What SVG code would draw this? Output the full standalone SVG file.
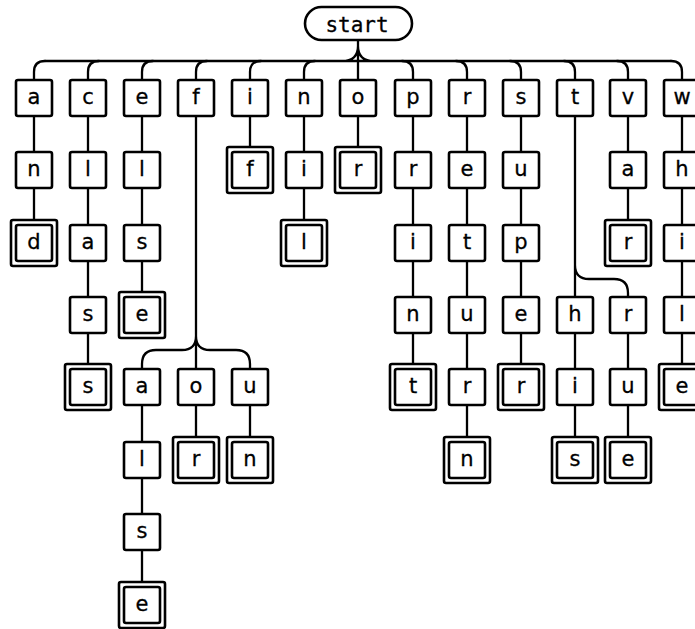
<svg xmlns="http://www.w3.org/2000/svg" width="695" height="629" viewBox="0 0 695 629">
<style>
.b{fill:#fff;stroke:#000;stroke-width:2.6}
.t{font-family:"DejaVu Sans","Liberation Sans",sans-serif;font-size:21px;text-anchor:middle;fill:#000;stroke:#000;stroke-width:0.3}
.s{font-family:"DejaVu Sans Mono","Liberation Mono",monospace;font-size:21px;text-anchor:middle;fill:#000;stroke:#000;stroke-width:0.3}
.e{fill:none;stroke:#000;stroke-width:2.3;stroke-linecap:round}
</style>
<rect width="695" height="629" fill="#fff"/>
<g id="connectors" class="e">
<path d="M358,40V79M358,46Q358,61 342,61M358,46Q358,61 374,61M45,61H671"/>
<path d="M34,79V72Q34,61 45,61M88,79V72Q88,61 99,61M142,79V72Q142,61 153,61M196,79V72Q196,61 207,61M250,79V72Q250,61 261,61M304,79V72Q304,61 315,61"/>
<path d="M413,79V72Q413,61 402,61M467,79V72Q467,61 456,61M521,79V72Q521,61 510,61M575,79V72Q575,61 564,61M628,79V72Q628,61 617,61M682,79V72Q682,61 671,61"/>
<path d="M34,116V152M34,188V220"/>
<path d="M88,116V152M88,188V225M88,261V297M88,333V364"/>
<path d="M142,116V152M142,188V225M142,261V292"/>
<path d="M196,116V369M196,336Q196,350 182,350H156Q142,350 142,364V369M196,336Q196,350 210,350H236Q250,350 250,364V369"/>
<path d="M142,405V442M142,478V514M142,550V582"/>
<path d="M196,405V437M250,405V437"/>
<path d="M250,116V147"/>
<path d="M304,116V152M304,188V220"/>
<path d="M358,116V147"/>
<path d="M413,116V152M413,188V225M413,261V297M413,333V364"/>
<path d="M467,116V152M467,188V225M467,261V297M467,333V369M467,405V437"/>
<path d="M521,116V152M521,188V225M521,261V297M521,333V364"/>
<path d="M575,116V297M575,265Q575,279 589,279H614Q628,279 628,293V297M575,333V369M575,405V437"/>
<path d="M628,116V152M628,188V220M628,333V369M628,405V437"/>
<path d="M682,116V152M682,188V225M682,261V297M682,333V364"/>
</g>
<g id="start"><rect class="b" x="305" y="7" width="107" height="33" rx="16.5"/><text class="s" x="357" y="32">start</text></g>
<g id="n-a"><rect class="b" x="16" y="80" width="36" height="36" rx="2"/><text class="t" x="34" y="104">a</text></g>
<g id="n-c"><rect class="b" x="70" y="80" width="36" height="36" rx="2"/><text class="t" x="88" y="104">c</text></g>
<g id="n-e"><rect class="b" x="124" y="80" width="36" height="36" rx="2"/><text class="t" x="142" y="104">e</text></g>
<g id="n-f"><rect class="b" x="178" y="80" width="36" height="36" rx="2"/><text class="t" x="196" y="104">f</text></g>
<g id="n-i"><rect class="b" x="232" y="80" width="36" height="36" rx="2"/><text class="t" x="250" y="104">i</text></g>
<g id="n-n"><rect class="b" x="286" y="80" width="36" height="36" rx="2"/><text class="t" x="304" y="104">n</text></g>
<g id="n-o"><rect class="b" x="340" y="80" width="36" height="36" rx="2"/><text class="t" x="358" y="104">o</text></g>
<g id="n-p"><rect class="b" x="395" y="80" width="36" height="36" rx="2"/><text class="t" x="413" y="104">p</text></g>
<g id="n-r"><rect class="b" x="449" y="80" width="36" height="36" rx="2"/><text class="t" x="467" y="104">r</text></g>
<g id="n-s"><rect class="b" x="503" y="80" width="36" height="36" rx="2"/><text class="t" x="521" y="104">s</text></g>
<g id="n-t"><rect class="b" x="557" y="80" width="36" height="36" rx="2"/><text class="t" x="575" y="104">t</text></g>
<g id="n-v"><rect class="b" x="610" y="80" width="36" height="36" rx="2"/><text class="t" x="628" y="104">v</text></g>
<g id="n-w"><rect class="b" x="664" y="80" width="36" height="36" rx="2"/><text class="t" x="682" y="104">w</text></g>
<g id="n-an"><rect class="b" x="16" y="152" width="36" height="36" rx="2"/><text class="t" x="34" y="176">n</text></g>
<g id="n-and"><rect class="b" x="11" y="220" width="46" height="46" rx="2"/><rect class="b" x="16" y="225" width="36" height="36" rx="2"/><text class="t" x="34" y="249">d</text></g>
<g id="n-cl"><rect class="b" x="70" y="152" width="36" height="36" rx="2"/><text class="t" x="88" y="176">l</text></g>
<g id="n-cla"><rect class="b" x="70" y="225" width="36" height="36" rx="2"/><text class="t" x="88" y="249">a</text></g>
<g id="n-clas"><rect class="b" x="70" y="297" width="36" height="36" rx="2"/><text class="t" x="88" y="321">s</text></g>
<g id="n-class"><rect class="b" x="65" y="364" width="46" height="46" rx="2"/><rect class="b" x="70" y="369" width="36" height="36" rx="2"/><text class="t" x="88" y="393">s</text></g>
<g id="n-el"><rect class="b" x="124" y="152" width="36" height="36" rx="2"/><text class="t" x="142" y="176">l</text></g>
<g id="n-els"><rect class="b" x="124" y="225" width="36" height="36" rx="2"/><text class="t" x="142" y="249">s</text></g>
<g id="n-else"><rect class="b" x="119" y="292" width="46" height="46" rx="2"/><rect class="b" x="124" y="297" width="36" height="36" rx="2"/><text class="t" x="142" y="321">e</text></g>
<g id="n-fa"><rect class="b" x="124" y="369" width="36" height="36" rx="2"/><text class="t" x="142" y="393">a</text></g>
<g id="n-fal"><rect class="b" x="124" y="442" width="36" height="36" rx="2"/><text class="t" x="142" y="466">l</text></g>
<g id="n-fals"><rect class="b" x="124" y="514" width="36" height="36" rx="2"/><text class="t" x="142" y="538">s</text></g>
<g id="n-false"><rect class="b" x="119" y="582" width="46" height="46" rx="2"/><rect class="b" x="124" y="587" width="36" height="36" rx="2"/><text class="t" x="142" y="611">e</text></g>
<g id="n-fo"><rect class="b" x="178" y="369" width="36" height="36" rx="2"/><text class="t" x="196" y="393">o</text></g>
<g id="n-for"><rect class="b" x="173" y="437" width="46" height="46" rx="2"/><rect class="b" x="178" y="442" width="36" height="36" rx="2"/><text class="t" x="196" y="466">r</text></g>
<g id="n-fu"><rect class="b" x="232" y="369" width="36" height="36" rx="2"/><text class="t" x="250" y="393">u</text></g>
<g id="n-fun"><rect class="b" x="227" y="437" width="46" height="46" rx="2"/><rect class="b" x="232" y="442" width="36" height="36" rx="2"/><text class="t" x="250" y="466">n</text></g>
<g id="n-if"><rect class="b" x="227" y="147" width="46" height="46" rx="2"/><rect class="b" x="232" y="152" width="36" height="36" rx="2"/><text class="t" x="250" y="176">f</text></g>
<g id="n-ni"><rect class="b" x="286" y="152" width="36" height="36" rx="2"/><text class="t" x="304" y="176">i</text></g>
<g id="n-nil"><rect class="b" x="281" y="220" width="46" height="46" rx="2"/><rect class="b" x="286" y="225" width="36" height="36" rx="2"/><text class="t" x="304" y="249">l</text></g>
<g id="n-or"><rect class="b" x="335" y="147" width="46" height="46" rx="2"/><rect class="b" x="340" y="152" width="36" height="36" rx="2"/><text class="t" x="358" y="176">r</text></g>
<g id="n-pr"><rect class="b" x="395" y="152" width="36" height="36" rx="2"/><text class="t" x="413" y="176">r</text></g>
<g id="n-pri"><rect class="b" x="395" y="225" width="36" height="36" rx="2"/><text class="t" x="413" y="249">i</text></g>
<g id="n-prin"><rect class="b" x="395" y="297" width="36" height="36" rx="2"/><text class="t" x="413" y="321">n</text></g>
<g id="n-print"><rect class="b" x="390" y="364" width="46" height="46" rx="2"/><rect class="b" x="395" y="369" width="36" height="36" rx="2"/><text class="t" x="413" y="393">t</text></g>
<g id="n-re"><rect class="b" x="449" y="152" width="36" height="36" rx="2"/><text class="t" x="467" y="176">e</text></g>
<g id="n-ret"><rect class="b" x="449" y="225" width="36" height="36" rx="2"/><text class="t" x="467" y="249">t</text></g>
<g id="n-retu"><rect class="b" x="449" y="297" width="36" height="36" rx="2"/><text class="t" x="467" y="321">u</text></g>
<g id="n-retur"><rect class="b" x="449" y="369" width="36" height="36" rx="2"/><text class="t" x="467" y="393">r</text></g>
<g id="n-return"><rect class="b" x="444" y="437" width="46" height="46" rx="2"/><rect class="b" x="449" y="442" width="36" height="36" rx="2"/><text class="t" x="467" y="466">n</text></g>
<g id="n-su"><rect class="b" x="503" y="152" width="36" height="36" rx="2"/><text class="t" x="521" y="176">u</text></g>
<g id="n-sup"><rect class="b" x="503" y="225" width="36" height="36" rx="2"/><text class="t" x="521" y="249">p</text></g>
<g id="n-supe"><rect class="b" x="503" y="297" width="36" height="36" rx="2"/><text class="t" x="521" y="321">e</text></g>
<g id="n-super"><rect class="b" x="498" y="364" width="46" height="46" rx="2"/><rect class="b" x="503" y="369" width="36" height="36" rx="2"/><text class="t" x="521" y="393">r</text></g>
<g id="n-th"><rect class="b" x="557" y="297" width="36" height="36" rx="2"/><text class="t" x="575" y="321">h</text></g>
<g id="n-thi"><rect class="b" x="557" y="369" width="36" height="36" rx="2"/><text class="t" x="575" y="393">i</text></g>
<g id="n-this"><rect class="b" x="552" y="437" width="46" height="46" rx="2"/><rect class="b" x="557" y="442" width="36" height="36" rx="2"/><text class="t" x="575" y="466">s</text></g>
<g id="n-tr"><rect class="b" x="610" y="297" width="36" height="36" rx="2"/><text class="t" x="628" y="321">r</text></g>
<g id="n-tru"><rect class="b" x="610" y="369" width="36" height="36" rx="2"/><text class="t" x="628" y="393">u</text></g>
<g id="n-true"><rect class="b" x="605" y="437" width="46" height="46" rx="2"/><rect class="b" x="610" y="442" width="36" height="36" rx="2"/><text class="t" x="628" y="466">e</text></g>
<g id="n-va"><rect class="b" x="610" y="152" width="36" height="36" rx="2"/><text class="t" x="628" y="176">a</text></g>
<g id="n-var"><rect class="b" x="605" y="220" width="46" height="46" rx="2"/><rect class="b" x="610" y="225" width="36" height="36" rx="2"/><text class="t" x="628" y="249">r</text></g>
<g id="n-wh"><rect class="b" x="664" y="152" width="36" height="36" rx="2"/><text class="t" x="682" y="176">h</text></g>
<g id="n-whi"><rect class="b" x="664" y="225" width="36" height="36" rx="2"/><text class="t" x="682" y="249">i</text></g>
<g id="n-whil"><rect class="b" x="664" y="297" width="36" height="36" rx="2"/><text class="t" x="682" y="321">l</text></g>
<g id="n-while"><rect class="b" x="659" y="364" width="46" height="46" rx="2"/><rect class="b" x="664" y="369" width="36" height="36" rx="2"/><text class="t" x="682" y="393">e</text></g>
</svg>
